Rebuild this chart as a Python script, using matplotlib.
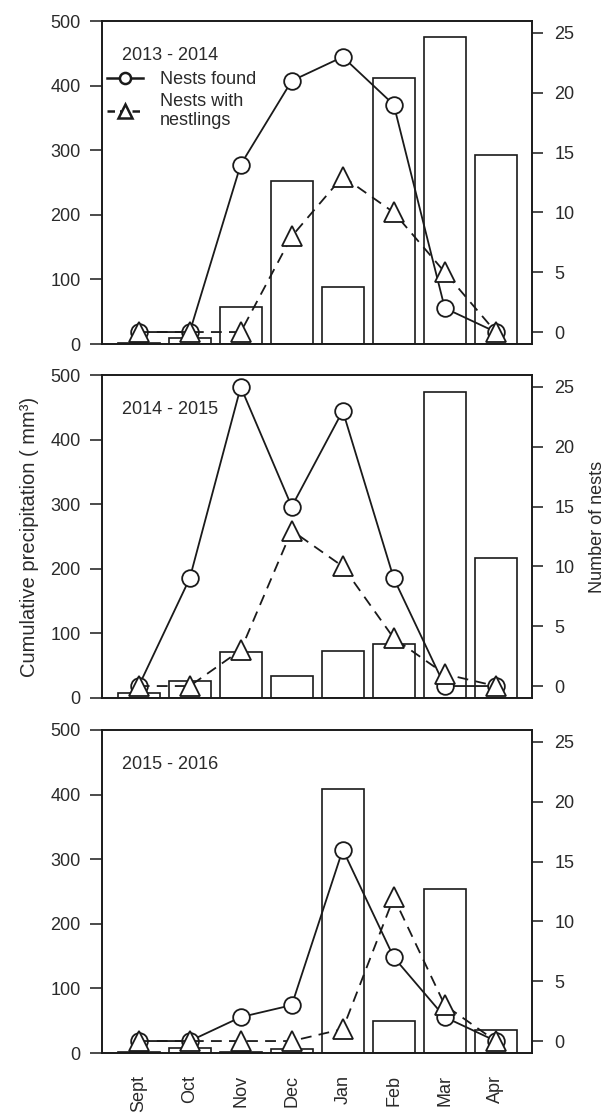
import numpy as np
import matplotlib
matplotlib.use('Agg')
import matplotlib.pyplot as plt
from matplotlib.lines import Line2D

plt.rcParams['font.family'] = ['Liberation Sans', 'DejaVu Sans']

# data
months = ['Sept', 'Oct', 'Nov', 'Dec', 'Jan', 'Feb', 'Mar', 'Apr']
seasons = ['2013 - 2014', '2014 - 2015', '2015 - 2016']

# cumulative precipitation (left axis, bars)
precip_2013 = [2, 9, 58, 253, 89, 411, 475, 292]
precip_2014 = [7, 26, 71, 34, 72, 84, 474, 216]
precip_2015 = [2, 8, 2, 6, 408, 49, 254, 36]

# nests (right axis, lines)
found_2013 = [0, 0, 14, 21, 23, 19, 2, 0]
found_2014 = [0, 9, 25, 15, 23, 9, 0, 0]
found_2015 = [0, 0, 2, 3, 16, 7, 2, 0]

nestlings_2013 = [0, 0, 0, 8, 13, 10, 5, 0]
nestlings_2014 = [0, 0, 3, 13, 10, 4, 1, 0]
nestlings_2015 = [0, 0, 0, 0, 1, 12, 3, 0]

precip = [precip_2013, precip_2014, precip_2015]
found = [found_2013, found_2014, found_2015]
nestlings = [nestlings_2013, nestlings_2014, nestlings_2015]

ink = '#1a1a1a'
txt = '#2a2a2a'
fs = 13

fig = plt.figure(figsize=(6.08, 11.13), dpi=100)

left = 102 / 608
width = 430 / 608
height = 323 / 1113
tops = [21, 375, 730]

x = np.arange(len(months))

for i in range(3):
    bottom = 1 - (tops[i] + 323) / 1113
    ax = fig.add_axes([left, bottom, width, height])
    ax.bar(x, precip[i], width=0.82, color='white', edgecolor=ink, linewidth=1.2)
    ax.set_xlim(-0.72, 7.71)
    ax.set_ylim(0, 500)
    ax.set_yticks([0, 100, 200, 300, 400, 500])
    ax.tick_params(axis='y', direction='out', length=8.5, width=1.1, pad=7,
                   labelsize=fs, colors=ink, labelcolor=txt)
    ax.set_xticks(x)
    if i == 2:
        ax.set_xticklabels(months, rotation=90, fontsize=fs, color=txt)
        ax.tick_params(axis='x', length=0, pad=16)
    else:
        ax.set_xticklabels([])
        ax.tick_params(axis='x', length=0)
    for s in ax.spines.values():
        s.set_linewidth(1.2)
        s.set_color(ink)
    ax.text(0.047, 0.893, seasons[i], transform=ax.transAxes, fontsize=fs,
            va='center', ha='left', color=txt)

    ax2 = ax.twinx()
    ax2.set_ylim(-1, 26)
    ax2.set_yticks([0, 5, 10, 15, 20, 25])
    ax2.tick_params(axis='y', direction='out', length=8, width=1.1, pad=8,
                    labelsize=fs, colors=ink, labelcolor=txt)
    ax2.plot(x, found[i], '-', color=ink, lw=1.3, marker='o', ms=12,
             mfc='white', mec=ink, mew=1.3, zorder=3)
    ax2.plot(x, nestlings[i], color=ink, lw=1.3, ls=(0, (6, 4)), marker='^',
             ms=14, mfc='white', mec=ink, mew=1.3, zorder=4)
    for s in ax2.spines.values():
        s.set_linewidth(1.2)
        s.set_color(ink)

    if i == 0:
        handles = [
            Line2D([], [], color=ink, lw=1.8, marker='o', ms=8, mfc='white',
                   mec=ink, mew=1.8),
            Line2D([], [], color=ink, lw=1.8, ls=(0, (3, 2)), marker='^', ms=10,
                   mfc='white', mec=ink, mew=1.8),
        ]
        leg = ax2.legend(handles, ['Nests found', 'Nests with\nnestlings'],
                         loc='upper left', bbox_to_anchor=(0.012, 0.845),
                         frameon=False, fontsize=fs, handlelength=2.0,
                         handletextpad=0.9, borderaxespad=0, borderpad=0,
                         labelspacing=0.25)
        for t in leg.get_texts():
            t.set_color(txt)

fig.text(30 / 608, 1 - 537 / 1113, 'Cumulative precipitation ( mm³)',
         rotation=90, va='center', ha='center', fontsize=14.5, color=txt)
fig.text(597 / 608, 1 - 527 / 1113, 'Number of nests',
         rotation=90, va='center', ha='center', fontsize=fs, color=txt)

fig.savefig('out.png', dpi=100, facecolor='white')
